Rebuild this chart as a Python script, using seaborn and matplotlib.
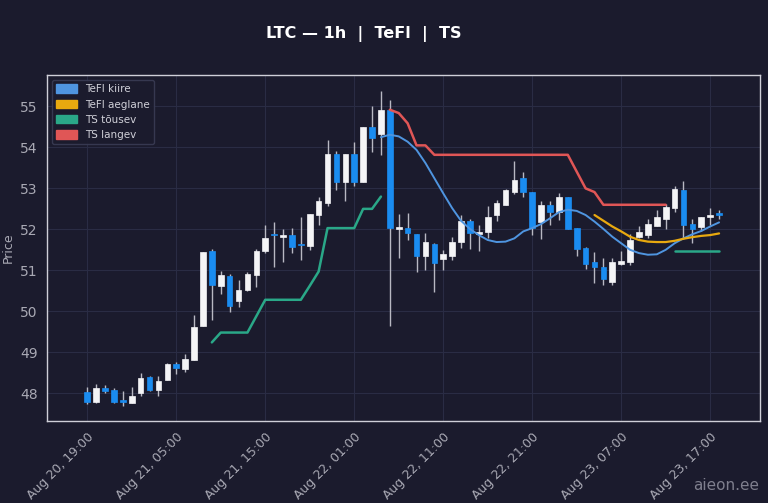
import numpy as np
import pandas as pd
import matplotlib
matplotlib.use("Agg")
import matplotlib.pyplot as plt
import matplotlib.dates as mdates
from matplotlib.patches import Patch
import seaborn as sns

# ---------------- data ----------------
start_time = "2024-08-20 19:00"
opens = [48.02, 47.79, 48.12, 48.08, 47.82, 47.77, 48.00, 48.40, 48.07, 48.32,
         48.70, 48.59, 48.81, 49.63, 51.48, 50.62, 50.87, 50.26, 50.52, 50.89,
         51.48, 51.88, 51.82, 51.86, 51.63, 51.60, 52.34, 52.65, 53.84, 53.16,
         53.84, 53.15, 54.49, 54.32, 54.92, 52.02, 52.04, 51.88, 51.34, 51.64,
         51.28, 51.35, 51.68, 52.21, 51.89, 51.93, 52.35, 52.60, 52.92, 53.25,
         52.92, 52.19, 52.60, 52.43, 52.78, 52.03, 51.54, 51.20, 51.07, 50.71,
         51.15, 51.20, 51.82, 51.85, 52.09, 52.26, 52.52, 52.96, 52.13, 52.05,
         52.29, 52.37]
highs = [48.16, 48.22, 48.20, 48.13, 48.05, 48.16, 48.49, 48.41, 48.42, 48.73,
         48.75, 48.95, 49.91, 51.44, 51.52, 50.99, 50.90, 50.77, 50.97, 51.52,
         52.11, 52.19, 52.01, 52.04, 52.31, 52.37, 52.78, 54.19, 53.92, 53.84,
         54.13, 54.50, 55.00, 55.38, 55.16, 52.37, 52.39, 51.88, 51.91, 51.66,
         51.50, 51.82, 52.35, 52.26, 52.11, 52.56, 52.72, 52.99, 53.67, 53.40,
         52.92, 52.68, 52.70, 52.88, 52.79, 52.03, 51.58, 51.44, 51.30, 51.30,
         51.46, 51.88, 52.08, 52.26, 52.48, 52.61, 53.05, 53.18, 52.26, 52.31,
         52.52, 52.48]
lows = [47.74, 47.75, 48.00, 47.75, 47.68, 47.75, 47.92, 48.05, 47.94, 48.31,
        48.48, 48.51, 48.80, 49.63, 49.79, 50.42, 49.98, 50.10, 50.50, 50.58,
        51.42, 51.09, 51.21, 51.42, 51.25, 51.50, 52.11, 52.57, 52.96, 52.68,
        53.05, 53.15, 53.90, 53.82, 49.63, 51.30, 51.74, 50.97, 51.01, 50.48,
        51.01, 51.25, 51.54, 51.52, 51.46, 51.78, 52.21, 52.60, 52.86, 52.78,
        51.86, 51.77, 52.11, 52.23, 52.01, 51.34, 51.04, 50.69, 50.63, 50.64,
        51.13, 51.13, 51.78, 51.80, 52.07, 52.02, 52.43, 51.77, 51.66, 51.95,
        52.11, 52.26]
closes = [47.79, 48.12, 48.05, 47.79, 47.79, 47.94, 48.36, 48.07, 48.30, 48.72,
          48.61, 48.84, 49.62, 51.44, 50.64, 50.89, 50.13, 50.52, 50.91, 51.48,
          51.78, 51.85, 51.87, 51.58, 51.61, 52.37, 52.68, 53.83, 53.15, 53.84,
          53.15, 54.50, 54.23, 54.92, 52.03, 52.05, 51.91, 51.34, 51.69, 51.17,
          51.40, 51.68, 52.21, 51.91, 51.92, 52.29, 52.65, 52.96, 53.21, 52.91,
          52.03, 52.60, 52.43, 52.80, 52.01, 51.52, 51.15, 51.07, 50.79, 51.20,
          51.23, 51.74, 51.94, 52.13, 52.29, 52.54, 52.99, 52.11, 52.01, 52.29,
          52.34, 52.35]

# TeFl kiire (fast) from candle 33 to 71
tefl_fast_start = 33
tefl_fast = [54.25, 54.31, 54.27, 54.14, 53.94, 53.62, 53.25, 52.88, 52.52, 52.21,
             52.01, 51.86, 51.74, 51.69, 51.70, 51.78, 51.95, 52.03, 52.13, 52.27,
             52.42, 52.48, 52.45, 52.35, 52.19, 52.01, 51.82, 51.66, 51.50, 51.42,
             51.38, 51.39, 51.50, 51.66, 51.78, 51.88, 51.96, 52.07, 52.17]
# TeFl aeglane (slow) from candle 57 to 71
tefl_slow_start = 57
tefl_slow = [52.35, 52.21, 52.07, 51.95, 51.82, 51.74, 51.70, 51.69, 51.69, 51.72,
             51.77, 51.81, 51.84, 51.86, 51.90]
# TS tõusev segments
ts_up1_start = 14
ts_up1 = [49.24, 49.48, 49.48, 49.48, 49.48, 49.88, 50.28, 50.28, 50.28, 50.28,
          50.28, 50.62, 50.97, 52.03, 52.03, 52.03, 52.03, 52.50, 52.50, 52.80]
ts_up2_start = 66
ts_up2 = [51.46, 51.46, 51.46, 51.46, 51.46, 51.46]
# TS langev from candle 34 to 65
ts_down_start = 34
ts_down = [54.92, 54.84, 54.59, 54.05, 54.05, 53.82, 53.82, 53.82, 53.82, 53.82,
           53.82, 53.82, 53.82, 53.82, 53.82, 53.82, 53.82, 53.82, 53.82, 53.82,
           53.82, 53.41, 53.00, 52.91, 52.60, 52.60, 52.60, 52.60, 52.60, 52.60,
           52.60, 52.60]

title_text = "LTC — 1h  |  TeFl  |  TS"
legend_labels = ["TeFl kiire", "TeFl aeglane", "TS tõusev", "TS langev"]

# ---------------- style ----------------
BG = "#1b1b2d"
GRID = "#2a2c44"
TXT = "#a9a9b4"
UP = "#f4f4f6"
DOWN = "#1a8cf0"
C_FAST = "#4f95e0"
C_SLOW = "#e8a90f"
C_UP = "#2aa888"
C_DN = "#e05656"

sns.set_theme(style="dark", rc={
    "axes.facecolor": BG, "figure.facecolor": BG,
    "axes.edgecolor": "#cfcfd8", "grid.color": GRID,
    "axes.labelcolor": TXT, "xtick.color": TXT, "ytick.color": TXT,
    "text.color": "white",
})
plt.rcParams['font.family'] = ['DejaVu Sans']

times = pd.date_range(start_time, periods=len(opens), freq="h")
df = pd.DataFrame({"time": times, "open": opens, "high": highs,
                   "low": lows, "close": closes})

fig = plt.figure(figsize=(7.68, 5.03), dpi=100)
ax = fig.add_axes([0.0608, 0.163, 0.9288, 0.688])
ax.set_facecolor(BG)

# candles
up = df["close"] >= df["open"]
colors = np.where(up, UP, DOWN)
width = pd.Timedelta(minutes=38) / pd.Timedelta(days=1)
ax.vlines(df["time"], df["low"], df["high"], color="#b8b8c2", linewidth=1.0, zorder=2)
bottoms = np.minimum(df["open"], df["close"])
heights = np.maximum(np.abs(df["close"] - df["open"]), 0.04)
ax.bar(df["time"], heights, bottom=bottoms, width=width, color=colors,
       edgecolor=colors, linewidth=0.5, zorder=3)

def seg(start, vals, color, lw=1.5):
    d = pd.DataFrame({"time": times[start:start + len(vals)], "v": vals})
    sns.lineplot(data=d, x="time", y="v", ax=ax, color=color, linewidth=lw,
                 zorder=4, legend=False)

seg(tefl_fast_start, tefl_fast, C_FAST, 1.4)
seg(tefl_slow_start, tefl_slow, C_SLOW, 1.6)
seg(ts_up1_start, ts_up1, C_UP, 1.8)
seg(ts_up2_start, ts_up2, C_UP, 1.8)
seg(ts_down_start, ts_down, C_DN, 1.8)

# axes
ax.set_xlim(times[0] - pd.Timedelta(hours=4.56), times[0] + pd.Timedelta(hours=75.6))
ax.set_ylim(47.32, 55.77)
ax.set_yticks(range(48, 56))
tick_times = pd.date_range(start_time, periods=8, freq="10h")
ax.set_xticks(tick_times)
ax.set_xticklabels([t.strftime("%b %d, %H:%M") for t in tick_times],
                   rotation=45, ha="right", rotation_mode="anchor", fontsize=9)
ax.tick_params(axis="y", labelsize=10, length=3, color=TXT)
ax.tick_params(axis="x", length=3, color=TXT)
ax.grid(True, color=GRID, linewidth=0.8)
ax.set_xlabel("")
ax.set_ylabel("Price", fontsize=9, color=TXT)
for s in ax.spines.values():
    s.set_color("#cfcfd8")
    s.set_linewidth(1.0)

handles = [Patch(facecolor=c, edgecolor=c) for c in (C_FAST, C_SLOW, C_UP, C_DN)]
leg = ax.legend(handles, legend_labels, loc="upper left", fontsize=7.5,
                frameon=True, facecolor=BG, edgecolor="#3a3c54", framealpha=0.9,
                labelcolor="#d0d0d8", handlelength=2.0, handleheight=0.9,
                borderaxespad=0.5)

fig.text(0.473, 0.932, title_text, ha="center", va="center", fontsize=11.5,
         fontweight="bold", color="white")
fig.text(0.945, 0.034, "aieon.ee", ha="center", va="center", fontsize=11,
         color="#8a8a98", alpha=0.9)

fig.savefig("out.png", dpi=100, facecolor=BG)
